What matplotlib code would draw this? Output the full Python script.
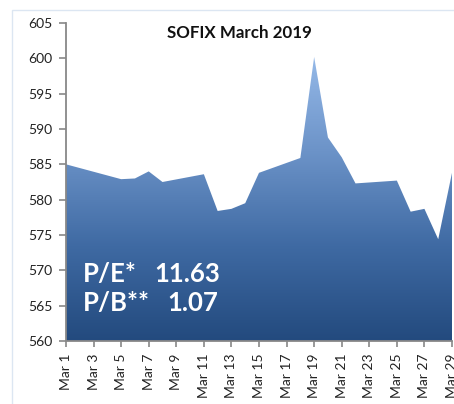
import matplotlib
matplotlib.use('Agg')
import matplotlib.pyplot as plt
import numpy as np
from matplotlib.colors import LinearSegmentedColormap
from matplotlib.patches import Polygon, Rectangle

# ---- data ----
days = [1, 5, 6, 7, 8, 11, 12, 13, 14, 15, 18, 19, 20, 21, 22, 25, 26, 27, 28, 29]
values = [585.0, 582.9, 583.0, 584.0, 582.5, 583.6, 578.4, 578.7, 579.5, 583.8,
          585.9, 600.2, 588.8, 586.0, 582.3, 582.7, 578.3, 578.7, 574.4, 583.8]
tick_days = list(range(1, 30, 2))
tick_labels = [f"Mar {d}" for d in tick_days]
y_ticks = list(range(560, 606, 5))
title = "SOFIX March 2019"
pe_label, pe_value = "P/E*", "11.63"
pb_label, pb_value = "P/B**", "1.07"

plt.rcParams['font.family'] = ['Lato', 'DejaVu Sans']

W, H = 454, 404
fig = plt.figure(figsize=(W / 100, H / 100), dpi=100)

# chart area border
fig.patches.append(Rectangle((12 / W, -0.1), 1.2, (H - 10) / H + 0.1,
                             transform=fig.transFigure, fill=False,
                             edgecolor='#DCE6F2', linewidth=1.0))

ax = fig.add_axes([66 / W, 63 / H, 386 / W, 318 / H])

# gradient-filled area
cmap = LinearSegmentedColormap.from_list('g', ['#234A7E', '#3F6AA3', '#6C93C8', '#95B9E8'])
grad = np.linspace(0, 1, 256).reshape(-1, 1)
im = ax.imshow(grad, cmap=cmap, origin='lower', aspect='auto',
               extent=[days[0], days[-1], 560, max(values)], zorder=1)
verts = [(days[0], 560)] + list(zip(days, values)) + [(days[-1], 560)]
poly = Polygon(verts, closed=True, facecolor='none', edgecolor='none')
ax.add_patch(poly)
im.set_clip_path(poly)
ax.set_xlim(1, 29)
ax.set_ylim(560, 605)

ax.set_xticks(tick_days)
ax.set_xticklabels(tick_labels, rotation=90)
ax.set_yticks(y_ticks)
for s in ['top', 'right']:
    ax.spines[s].set_visible(False)
for s in ['left', 'bottom']:
    ax.spines[s].set_color('#888888')
    ax.spines[s].set_linewidth(1.3)
    ax.spines[s].set_zorder(3)
ax.tick_params(axis='y', direction='out', length=5, width=1.2, color='#888888',
               labelsize=10, pad=5, labelcolor='#222222')
ax.tick_params(axis='x', direction='out', length=4, width=1.2, color='#888888',
               labelsize=10, pad=5, labelcolor='#222222')

fig.text(239 / W, 1 - 33 / H, title, ha='center', va='center',
         fontsize=12.2, fontweight='bold', color='#111111')

fs = 18.5
fig.text(83 / W, 1 - 282 / H, pe_label, ha='left', va='baseline',
         fontsize=fs, fontweight='bold', color='white')
fig.text(154 / W, 1 - 282 / H, pe_value, ha='left', va='baseline',
         fontsize=fs, fontweight='bold', color='white')
fig.text(83 / W, 1 - 311 / H, pb_label, ha='left', va='baseline',
         fontsize=fs, fontweight='bold', color='white')
fig.text(167 / W, 1 - 311 / H, pb_value, ha='left', va='baseline',
         fontsize=fs, fontweight='bold', color='white')

fig.savefig('out.png', dpi=100)
